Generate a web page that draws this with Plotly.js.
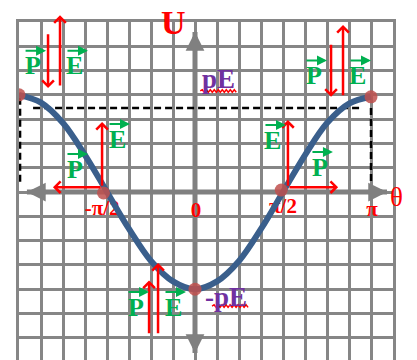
<!DOCTYPE html>
<html>
<head>
<meta charset="utf-8">
<script src="https://cdn.plot.ly/plotly-3.0.1.min.js"></script>
<style>
html,body{margin:0;padding:0;overflow:hidden;background:#fff;}
#chart{width:417px;height:362px;}
</style>
</head>
<body>
<div id="chart"></div>
<script>
// ---- data (theta in units of pi, U in units of pE) ----
const thetaPi = [-1, -0.875, -0.75, -0.625, -0.5, -0.375, -0.25, -0.125, 0, 0.125, 0.25, 0.375, 0.5, 0.625, 0.75, 0.875, 1];
const energyU = [1.00, 0.92, 0.71, 0.38, 0.00, -0.38, -0.71, -0.92, -1.00, -0.92, -0.71, -0.38, 0.00, 0.38, 0.71, 0.91, 0.98];
const dotTheta = [-1, -0.52, 0, 0.49, 1];
const dotU = [1.00, -0.01, -1.00, 0.02, 0.98];
const tickTheta = [-0.528, 0.006, 0.5, 1.006];
const tickU = [-0.185, -0.206, -0.165, -0.196];
const tickText = ['-π/2', '0', 'π/2', 'π'];
// red field / dipole arrows: tail theta, tail U, head theta, head U
const arrTailT = [-0.835, -0.767, 0.773, 0.841, -0.528, -0.528, 0.528, 0.528, -0.261, -0.210];
const arrTailU = [1.64, 1.08, 1.53, 0.98, 0.05, 0.05, 0.05, 0.05, -1.47, -1.47];
const arrHeadT = [-0.835, -0.767, 0.773, 0.841, -0.528, -0.807, 0.528, 0.813, -0.261, -0.210];
const arrHeadU = [1.07, 1.82, 0.98, 1.72, 0.72, 0.05, 0.74, 0.05, -0.91, -0.73];
// vector letters
const vecText = ['P', 'E', 'P', 'E', 'E', 'P', 'E', 'P', 'P', 'E'];
const vecT = [-0.920, -0.682, 0.676, 0.926, -0.443, -0.682, 0.443, 0.710, -0.335, -0.125];
const vecU = [1.30, 1.30, 1.20, 1.20, 0.545, 0.236, 0.535, 0.257, -1.184, -1.184];

const GRID = '#868686';
const RED = '#FF0000';
const GREEN = '#00B050';
const PURPLE = '#7030A0';
const SERIF = 'Liberation Serif';

const traces = [
  {x: tickTheta, y: tickU, mode: 'text', text: tickText, hoverinfo: 'skip',
   textfont: {family: SERIF, size: 21, color: RED, weight: 'bold'}, showlegend: false},
  {x: thetaPi, y: energyU, mode: 'lines', line: {color: '#3A5F8C', width: 6, shape: 'spline'}, showlegend: false},
  {x: dotTheta, y: dotU, mode: 'markers', marker: {color: 'rgba(192,80,77,0.85)', size: 13}, showlegend: false}
];

function wavy(x0, x1, y) {
  const dx = 2 / 176, dy = 1.3 / 97.14;
  let p = 'M' + x0 + ',' + y;
  let k = 0;
  for (let x = x0 + dx; x <= x1 + 1e-9; x += dx) { k++; p += ' L' + x.toFixed(4) + ',' + (y + (k % 2 ? dy : -dy)).toFixed(4); }
  return {type: 'path', xref: 'x', yref: 'y', path: p, line: {color: RED, width: 1.5}};
}

const shapes = [
  {type: 'line', xref: 'x', yref: 'y', x0: -0.955, x1: 1.091, y0: 0, y1: 0, line: {color: '#808080', width: 5}, layer: 'between'},
  {type: 'line', xref: 'x', yref: 'y', x0: 0, x1: 0, y0: -1.657, y1: 1.647, line: {color: '#808080', width: 5}, layer: 'between'},
  {type: 'line', xref: 'x', yref: 'y', x0: -0.92, x1: 0.935, y0: 0.865, y1: 0.865, line: {color: '#000', width: 2.5, dash: '7px,4px'}, layer: 'between'},
  {type: 'line', xref: 'x', yref: 'y', x0: -0.994, x1: -0.994, y0: 0.97, y1: 0.08, line: {color: '#000', width: 2.5, dash: '7px,4px'}, layer: 'between'},
  {type: 'line', xref: 'x', yref: 'y', x0: 1.0, x1: 1.0, y0: 0.865, y1: 0.05, line: {color: '#000', width: 2.5, dash: '7px,4px'}, layer: 'between'},
  wavy(0.03, 0.245, 1.04),
  wavy(0.097, 0.305, -1.174)
];

const annotations = [];
// gray axis arrowheads
[[-0.955, 0, 20, 0], [1.091, 0, -20, 0], [0, 1.647, 0, 20], [0, -1.657, 0, -20]].forEach(a => {
  annotations.push({x: a[0], y: a[1], xref: 'x', yref: 'y', ax: a[2], ay: a[3], text: '', showarrow: true,
    arrowhead: 2, arrowsize: 0.75, arrowwidth: 5, arrowcolor: '#808080', standoff: 0});
});
for (let i = 0; i < arrTailT.length; i++) {
  annotations.push({x: arrHeadT[i], y: arrHeadU[i], ax: arrTailT[i], ay: arrTailU[i], xref: 'x', yref: 'y', axref: 'x', ayref: 'y',
    text: '', showarrow: true, arrowhead: 4, arrowsize: 0.9, arrowwidth: 2.5, arrowcolor: RED, standoff: 0});
}
for (let i = 0; i < vecText.length; i++) {
  annotations.push({x: vecT[i], y: vecU[i], xref: 'x', yref: 'y', text: vecText[i], showarrow: false,
    font: {family: SERIF, size: 26, color: GREEN, weight: 'bold'}, xanchor: 'center', yanchor: 'middle'});
  annotations.push({x: vecT[i], y: vecU[i], xref: 'x', yref: 'y', xshift: 13, yshift: 15, ax: -22, ay: 0,
    text: '', showarrow: true, arrowhead: 2, arrowsize: 1.0, arrowwidth: 2, arrowcolor: GREEN, standoff: 0});
}
annotations.push({x: 0.131, y: 1.16, xref: 'x', yref: 'y', text: 'pE', showarrow: false,
  font: {family: SERIF, size: 27, color: PURPLE, weight: 'bold'}});
annotations.push({x: 0.175, y: -1.085, xref: 'x', yref: 'y', text: '-pE', showarrow: false,
  font: {family: SERIF, size: 27, color: PURPLE, weight: 'bold'}});
annotations.push({x: -0.122, y: 1.74, xref: 'x', yref: 'y', text: 'U', showarrow: false,
  font: {family: SERIF, size: 34, color: RED, weight: 'bold'}});
annotations.push({x: 1.032, y: 0.485, xref: 'paper', yref: 'paper', text: 'θ', showarrow: false,
  font: {family: SERIF, size: 27, color: RED}});

const axisCommon = {showgrid: true, gridcolor: GRID, gridwidth: 3, showline: true, mirror: true,
  linecolor: GRID, linewidth: 3, zeroline: false, showticklabels: false, ticks: '', fixedrange: true};

const layout = {
  width: 417, height: 362,
  margin: {l: 19, r: 24, t: 22, b: 0},
  paper_bgcolor: '#fff', plot_bgcolor: '#fff',
  showlegend: false,
  xaxis: Object.assign({range: [-1, 1.125], dtick: 0.125, tick0: 0}, axisCommon),
  yaxis: Object.assign({range: [-1.75, 1.75], dtick: 0.25, tick0: 0}, axisCommon),
  shapes: shapes,
  annotations: annotations
};

Plotly.newPlot('chart', traces, layout, {displayModeBar: false, staticPlot: true});
</script>
</body>
</html>
